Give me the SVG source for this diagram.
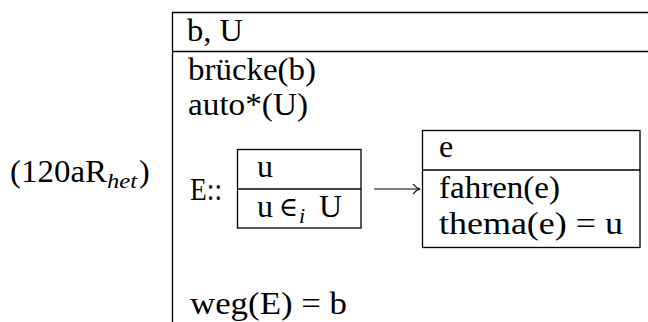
<svg xmlns="http://www.w3.org/2000/svg" width="648" height="322" viewBox="0 0 648 322">
<style>
.t{font-family:"Liberation Serif","Times New Roman","DejaVu Serif",serif;font-size:32px;fill:#000}
.m{font-family:"DejaVu Serif","Liberation Serif",serif;font-size:27px;fill:#000}
.s{font-family:"Liberation Serif","DejaVu Serif",serif;font-size:22px;font-style:italic;fill:#000}
.b{fill:none;stroke:#000;stroke-width:1.3}
</style>
<defs>
<marker id="ah" markerWidth="12" markerHeight="12" refX="10" refY="6" orient="auto" markerUnits="userSpaceOnUse">
<path d="M3,1 Q6,5 10,6 Q6,7 3,11" fill="none" stroke="#000" stroke-width="1.2"/>
</marker>
</defs>
<rect width="648" height="322" fill="#fff"/>
<g id="label">
<text class="t" x="10" y="182" textLength="97" lengthAdjust="spacingAndGlyphs">(120aR</text>
<text class="s" x="107" y="188" textLength="30" lengthAdjust="spacingAndGlyphs">het</text>
<text class="t" x="139" y="182">)</text>
</g>
<g id="drs">
<path class="b" d="M172.5,330 V12.5 H660 M172.5,51.5 H660"/>
<text class="t" x="187" y="41" textLength="56" lengthAdjust="spacingAndGlyphs">b, U</text>
<text class="t" x="188" y="80" textLength="128" lengthAdjust="spacingAndGlyphs">brücke(b)</text>
<text class="t" x="188" y="115" textLength="120" lengthAdjust="spacingAndGlyphs">auto*(U)</text>
<text class="t" x="190" y="200" textLength="32" lengthAdjust="spacingAndGlyphs">E::</text>
<text class="t" x="190" y="314" textLength="157" lengthAdjust="spacingAndGlyphs">weg(E) = b</text>
</g>
<g id="box-u">
<rect class="b" x="237.5" y="149.5" width="123.5" height="78.5"/>
<line class="b" x1="237.5" y1="189" x2="361" y2="189"/>
<text class="t" x="257" y="177">u</text>
<text class="t" x="257" y="217">u</text>
<text class="m" x="279" y="216" textLength="19" lengthAdjust="spacingAndGlyphs">∈</text>
<text class="s" x="299" y="223">i</text>
<text class="t" x="319" y="217">U</text>
</g>
<g id="box-e">
<rect class="b" x="422.5" y="130.5" width="217.5" height="117"/>
<line class="b" x1="422.5" y1="170" x2="640" y2="170"/>
<text class="t" x="439" y="157">e</text>
<text class="t" x="439" y="198" textLength="121" lengthAdjust="spacingAndGlyphs">fahren(e)</text>
<text class="t" x="439" y="234" textLength="184" lengthAdjust="spacingAndGlyphs">thema(e) = u</text>
</g>
<g id="connectors">
<line x1="374" y1="189" x2="420" y2="189" stroke="#000" stroke-width="1.2" marker-end="url(#ah)"/>
</g>
</svg>
